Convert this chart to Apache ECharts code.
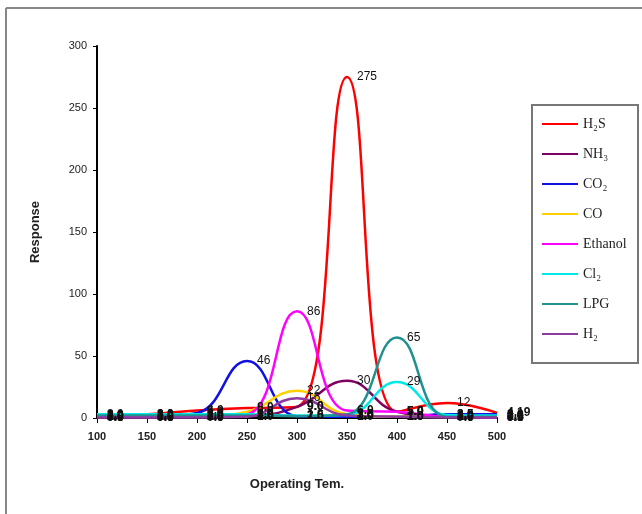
<!DOCTYPE html>
<html>
<head>
<meta charset="utf-8">
<script src="https://cdn.jsdelivr.net/npm/echarts@6/dist/echarts.min.js"></script>
<style>
html,body{margin:0;padding:0;background:#fff;}
#chart{width:642px;height:514px;}
</style>
</head>
<body>
<div id="chart"></div>
<script>
const temps = [100, 150, 200, 250, 300, 350, 400, 450, 500];
const h2s     = [2.0, 3.0, 6.0, 8.0, 9.0, 275, 5.0, 12, 4.19];
const nh3     = [0.5, 0.5, 1.0, 1.5, 9.0, 30, 5.0, 1.0, 0.5];
const co2     = [1.0, 1.0, 4.0, 46, 1.5, 1.0, 1.0, 3.0, 3.0];
const co      = [1.0, 1.0, 1.0, 5.0, 22, 3.0, 1.0, 1.0, 1.0];
const ethanol = [1.0, 1.0, 1.0, 3.0, 86, 6.0, 5.0, 1.0, 0.5];
const cl2     = [3.0, 3.0, 3.0, 3.0, 2.0, 2.5, 29, 2.5, 2.0];
const lpg     = [2.0, 2.0, 2.0, 2.0, 1.5, 3.0, 65, 1.0, 1.0];
const h2      = [0.5, 0.5, 0.5, 1.0, 16, 2.0, 1.0, 0.5, 0.5];
const seriesNames = ['H\u2082S', 'NH\u2083', 'CO\u2082', 'CO', 'Ethanol', 'Cl\u2082', 'LPG', 'H\u2082'];
const seriesValues = [h2s, nh3, co2, co, ethanol, cl2, lpg, h2];
const seriesColors = ['#FF0000', '#800060', '#1010E0', '#FFD000', '#FF00FF', '#00E8E8', '#209090', '#8E3A9E'];

function fmt(v) {
  if (Number.isInteger(v)) return v >= 10 ? String(v) : v.toFixed(1);
  return String(v);
}

const chart = echarts.init(document.getElementById('chart'));
chart.setOption({
  backgroundColor: '#fff',
  animation: false,
  grid: { left: 97, right: 145, top: 46, bottom: 96 },
  graphic: [
    { type: 'line', shape: { x1: 6, y1: 8, x2: 642, y2: 8 }, style: { stroke: '#888', lineWidth: 2 } },
    { type: 'line', shape: { x1: 6, y1: 8, x2: 6, y2: 514 }, style: { stroke: '#888', lineWidth: 2 } },
    { type: 'rect', shape: { x: 532, y: 105, width: 106, height: 258 }, style: { fill: '#fff', stroke: '#777', lineWidth: 2 }, z: -1 }
  ],
  legend: {
    orient: 'vertical',
    left: 537,
    top: 112,
    icon: 'rect',
    itemWidth: 36,
    itemHeight: 2,
    itemGap: 16,
    textStyle: { fontFamily: 'Liberation Serif', fontSize: 14, color: '#222' },
    data: seriesNames
  },
  xAxis: {
    type: 'value',
    min: 100, max: 500, interval: 50,
    name: 'Operating Tem.',
    nameLocation: 'middle',
    nameGap: 60,
    nameTextStyle: { fontFamily: 'Arial', fontWeight: 'bold', fontSize: 13, color: '#222' },
    axisLine: { lineStyle: { color: '#000', width: 2 } },
    axisTick: { show: true, length: 5, lineStyle: { color: '#000' } },
    axisLabel: { margin: 13, fontFamily: 'Arial', fontWeight: 'bold', fontSize: 11, color: '#222' },
    splitLine: { show: false }
  },
  yAxis: {
    type: 'value',
    min: 0, max: 300, interval: 50,
    name: 'Response',
    nameLocation: 'middle',
    nameGap: 55,
    nameTextStyle: { fontFamily: 'Arial', fontWeight: 'bold', fontSize: 13, color: '#222' },
    axisLine: { show: true, lineStyle: { color: '#000', width: 2 } },
    axisTick: { show: true, length: 4, lineStyle: { color: '#000' } },
    axisLabel: { margin: 10, fontFamily: 'Arial', fontSize: 11, color: '#222' },
    splitLine: { show: false }
  },
  series: seriesNames.map((name, i) => ({
    name: name,
    type: 'line',
    smooth: 0.45,
    symbol: 'circle',
    symbolSize: 0,
    showSymbol: true,
    color: seriesColors[i],
    itemStyle: { color: seriesColors[i] },
    lineStyle: { width: 2.5, color: seriesColors[i] },
    data: temps.map((t, j) => ({
      value: [t, seriesValues[i][j]],
      label: { fontWeight: seriesValues[i][j] < 10 ? 'bold' : 'normal' }
    })),
    label: {
      show: true,
      position: 'right',
      distance: 10,
      fontFamily: 'Arial',
      fontSize: 12,
      color: '#111',
      formatter: p => fmt(p.value[1])
    }
  }))
});
</script>
</body>
</html>
